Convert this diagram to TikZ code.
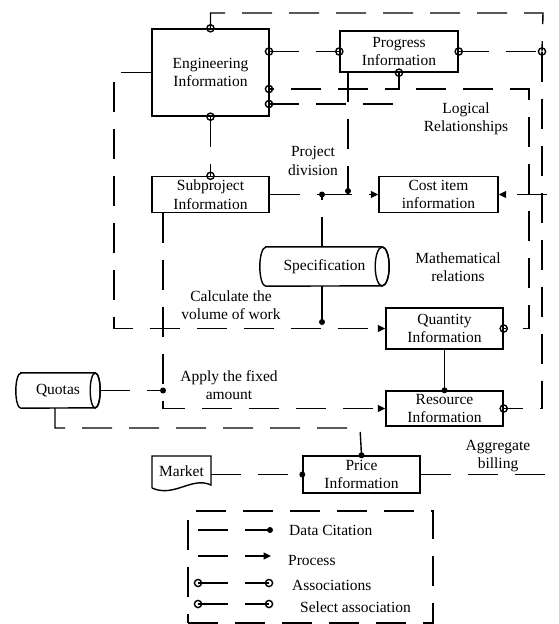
\documentclass[tikz,border=0pt]{standalone}
\usepackage{fontspec}
\setmainfont{Liberation Serif}
\usetikzlibrary{arrows.meta}
\begin{document}
\begin{tikzpicture}[x=1pt,y=-1pt,
  lw/.style={line width=1.4pt},
  dsh/.style={lw, dash pattern=on 30pt off 17pt},
  tip/.style={-{Triangle[length=7.5pt,width=7pt]}},
  txt/.style={font=\fontsize{15.5}{18.5}\selectfont, align=center, inner sep=0pt},
  box/.style 2 args={draw, lw, txt, minimum width=#1, minimum height=#2},
  lab/.style={txt},
]
\useasboundingbox (0,0) rectangle (558,624);

% ---- boxes
\node[box={117pt}{87pt}] (eng) at (210.5,72.5) {Engineering\\Information};
\node[box={118pt}{41pt}] (prog) at (399,51.5) {Progress\\Information};
\node[box={117pt}{36pt}] (sub) at (210.5,194.5) {Subproject\\Information};
\node[box={119pt}{36pt}] (cost) at (438.5,194.5) {Cost item\\information};
\node[box={117pt}{41pt}] (qty) at (444.5,328.5) {Quantity\\Information};
\node[box={117pt}{35pt}] (res) at (444.5,408.5) {Resource\\Information};
\node[box={117pt}{37pt}] (price) at (361.5,474.5) {Price\\Information};

% ---- cylinders and document
\node[lab, minimum width=129pt, minimum height=39pt] (spec) at (324.5,266.5) {Specification};
\draw[lw] ([xshift=6pt]spec.north west) -- ([xshift=-7pt]spec.north east)
  arc[start angle=90,end angle=-90,x radius=7pt,y radius=19.5pt]
  -- ([xshift=6pt]spec.south west)
  arc[start angle=270,end angle=90,x radius=6pt,y radius=19.5pt] -- cycle;
\draw[lw] ([xshift=-7pt]spec.east) ellipse[x radius=7pt,y radius=19.5pt];

\node[lab, minimum width=84pt, minimum height=35pt] (quotas) at (58,390.5) {Quotas};
\draw[lw] ([xshift=5pt]quotas.north west) -- ([xshift=-5pt]quotas.north east)
  arc[start angle=90,end angle=-90,x radius=5pt,y radius=17.5pt]
  -- ([xshift=5pt]quotas.south west)
  arc[start angle=270,end angle=90,x radius=5pt,y radius=17.5pt] -- cycle;
\draw[lw] ([xshift=-5pt]quotas.east) ellipse[x radius=5pt,y radius=17.5pt];

\node[lab, minimum width=59pt, minimum height=31pt] (market) at (181.5,471) {Market};
\draw[lw] (152,488) -- (152,456) -- (211,456) -- (211,485)
  .. controls (192,476) and (174,498) .. (152,488);

% ---- junction coordinates
\coordinate (engR1) at (269,51.5);
\coordinate (engR2) at (269,89);
\coordinate (engR3) at (269,104);
\coordinate (top1) at (210.5,13);
\coordinate (top2) at (543,13);
\coordinate (J) at (542,51.5);
\coordinate (rv) at (542,408.5);
\coordinate (pj) at (399,89);
\coordinate (lr1) at (529,89);
\coordinate (lr2) at (529,328.5);
\coordinate (e3end) at (398,104);
\coordinate (pd1) at (348,72);
\coordinate (pd2) at (348,191);
\coordinate (pd3) at (348,194.5);
\coordinate (sj) at (322,194.5);
\coordinate (sd) at (322,322);
\coordinate (lc1) at (114,72.5);
\coordinate (lc2) at (114,328.5);
\coordinate (sv1) at (163,212.5);
\coordinate (sv2) at (163,408.5);
\coordinate (qj) at (163,390.5);
\coordinate (qb1) at (55,408);
\coordinate (qb2) at (55,428);
\coordinate (qb3) at (360,428);
\coordinate (ab) at (547,474.5);
\coordinate (cr) at (547,194.5);

% ---- connectors
\draw[dsh] (eng.north) -- (top1) -- (top2) -- (J);
\draw[dsh] (engR1) -- (prog.west);
\draw[dsh] (prog.east) -- (J);
\draw[dsh] (J) -- (rv) -- (res.east);
\draw[dsh] (prog.south) -- (pj) -- (engR2);
\draw[dsh, dash phase=30pt] (pj) -- (lr1) -- (lr2) -- (qty.east);
\draw[dsh] (engR3) -- (e3end);
\draw[dsh] (pd1) -- (pd2);
\draw[lw] (pd2) -- (pd3) -- (sj);
\draw[dsh] (sub.east) -- (sj);
\draw[dsh, tip] (sj) -- (cost.west);
\draw[dsh] (spec.north -| sj) -- (sj);
\draw[lw] (spec.south -| sj) -- (sd);
\draw[dsh, tip] (eng.west) -- (lc1) -- (lc2) -- (qty.west);
\draw[dsh, tip] (sv1) -- (sv2) -- (res.west);
\draw[dsh] (quotas.east) -- (qj);
\draw[dsh] (qb1) -- (qb2) -- (qb3) -- (price.north);
\draw[lw] (qty.south) -- (res.north);
\draw[dsh] (market.east |- price.west) -- (price.west);
\draw[dsh] (price.east) -- (ab);
\draw[dsh, tip] (cr) -- (cost.east);
\draw[dsh] (eng.south) -- (sub.north);

% ---- labels
\node[lab] (lrl) at (466,119) {Logical\\Relationships};
\node[lab] (pdl) at (313,161) {Project\\division};
\node[lab] (mrl) at (458,267) {Mathematical\\relations};
\node[lab] (cvl) at (231,305) {Calculate the\\volume of work};
\node[lab] (afl) at (229,385) {Apply the fixed\\amount};
\node[lab] (agl) at (498,456) {Aggregate\\billing};

% ---- legend
\node[draw, dsh, minimum width=245pt, minimum height=112pt, inner sep=0pt] (legend) at (310.5,567) {};
\coordinate (l1a) at (198,530); \coordinate (l1b) at (270,530);
\coordinate (l2a) at (198,556); \coordinate (l2b) at (271,556);
\coordinate (l3a) at (198,583); \coordinate (l3b) at (269,583);
\coordinate (l4a) at (198,604); \coordinate (l4b) at (269,604);
\draw[dsh] (l1a) -- (l1b);
\draw[dsh, tip] (l2a) -- (l2b);
\draw[dsh] (l3a) -- (l3b);
\draw[dsh] (l4a) -- (l4b);
\node[lab, anchor=west] (t1) at (289,530) {Data Citation};
\node[lab, anchor=west] (t2) at (288,560) {Process};
\node[lab, anchor=west] (t3) at (292,585) {Associations};
\node[lab, anchor=west] (t4) at (300,607) {Select association};

% ---- markers
\foreach \p in {eng.north,engR1,engR2,engR3,eng.south,sub.north,prog.west,prog.east,prog.south,J,qty.east,res.east,l3a,l3b,l4a,l4b}
  \draw[lw] (\p) circle (3.6pt);
\foreach \p in {sj,pd2,sd,qj,res.north,price.north,price.west,l1b}
  \fill (\p) circle (3pt);
\end{tikzpicture}
\end{document}
